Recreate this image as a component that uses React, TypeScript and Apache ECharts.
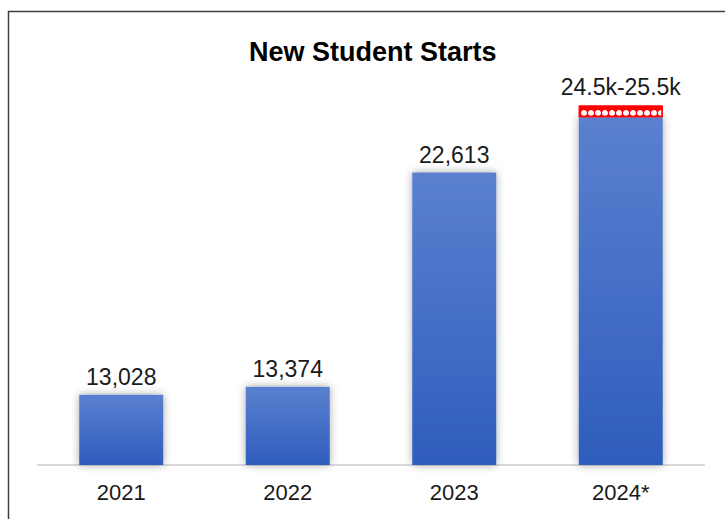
import React, { useEffect, useRef } from "react";
import * as echarts from "echarts";

const categories = ["2021", "2022", "2023", "2024*"];
const starts = [13028, 13374, 22613, 25000];
const valueLabels = ["13,028", "13,374", "22,613", ""];
const rangeExtra = [null, null, null, 500];
const rangeLabels = ["", "", "", "24.5k-25.5k"];
const chartTitle = "New Student Starts";

const FONT = "'Liberation Sans', Arial, sans-serif";

export default function App() {
  const ref = useRef<HTMLDivElement>(null);
  useEffect(() => {
    if (!ref.current) return;
    const chart = echarts.init(ref.current, undefined, { renderer: "svg" });
    chart.setOption({
      animation: false,
      backgroundColor: "#ffffff",
      title: {
        text: chartTitle,
        left: 244,
        top: 33,
        textStyle: { fontFamily: FONT, fontSize: 27, fontWeight: "bold", color: "#000000" },
      },
      graphic: [
        {
          type: "rect",
          shape: { x: 8.5, y: 11.5, width: 900, height: 700 },
          style: { fill: "none", stroke: "#3f3f3f", lineWidth: 1.5 },
          silent: true,
          z: 100,
        },
      ],
      grid: { left: 38, right: 21, top: 94, bottom: 54, containLabel: false },
      xAxis: {
        type: "category",
        data: categories,
        axisLine: { show: true, lineStyle: { color: "#d9d9d9", width: 2 } },
        axisTick: { show: false },
        axisLabel: { fontFamily: FONT, fontSize: 22, color: "#1a1a1a", margin: 16 },
      },
      yAxis: {
        type: "value",
        min: 10000,
        max: 26000,
        show: false,
        splitLine: { show: false },
      },
      series: [
        {
          type: "bar",
          stack: "total",
          data: starts,
          barWidth: 84,
          clip: true,
          itemStyle: {
            color: new echarts.graphic.LinearGradient(0, 0, 0, 1, [
              { offset: 0, color: "#5b80cf" },
              { offset: 1, color: "#2e5dbd" },
            ]),
            shadowColor: "rgba(0,0,0,0.35)",
            shadowBlur: 8,
          },
          label: {
            show: true,
            position: "top",
            distance: 6,
            fontFamily: FONT,
            fontSize: 23,
            color: "#1a1a1a",
            formatter: (p: any) => valueLabels[p.dataIndex],
          },
        },
        {
          type: "bar",
          stack: "total",
          data: rangeExtra,
          barWidth: 84,
          itemStyle: {
            color: "#ff0000",
            borderColor: "#ff0000",
            borderWidth: 1.5,
            decal: {
              symbol: "circle",
              symbolSize: 1,
              color: "#ffffff",
              dashArrayX: [6, 1],
              dashArrayY: [6, 4],
            },
          },
          label: {
            show: true,
            position: "top",
            distance: 7,
            fontFamily: FONT,
            fontSize: 23,
            color: "#1a1a1a",
            formatter: (p: any) => rangeLabels[p.dataIndex],
          },
        },
      ],
    });
    return () => chart.dispose();
  }, []);
  return (
    <div
      ref={ref}
      style={{ position: "fixed", left: 0, top: 0, width: 725, height: 519 }}
    />
  );
}
